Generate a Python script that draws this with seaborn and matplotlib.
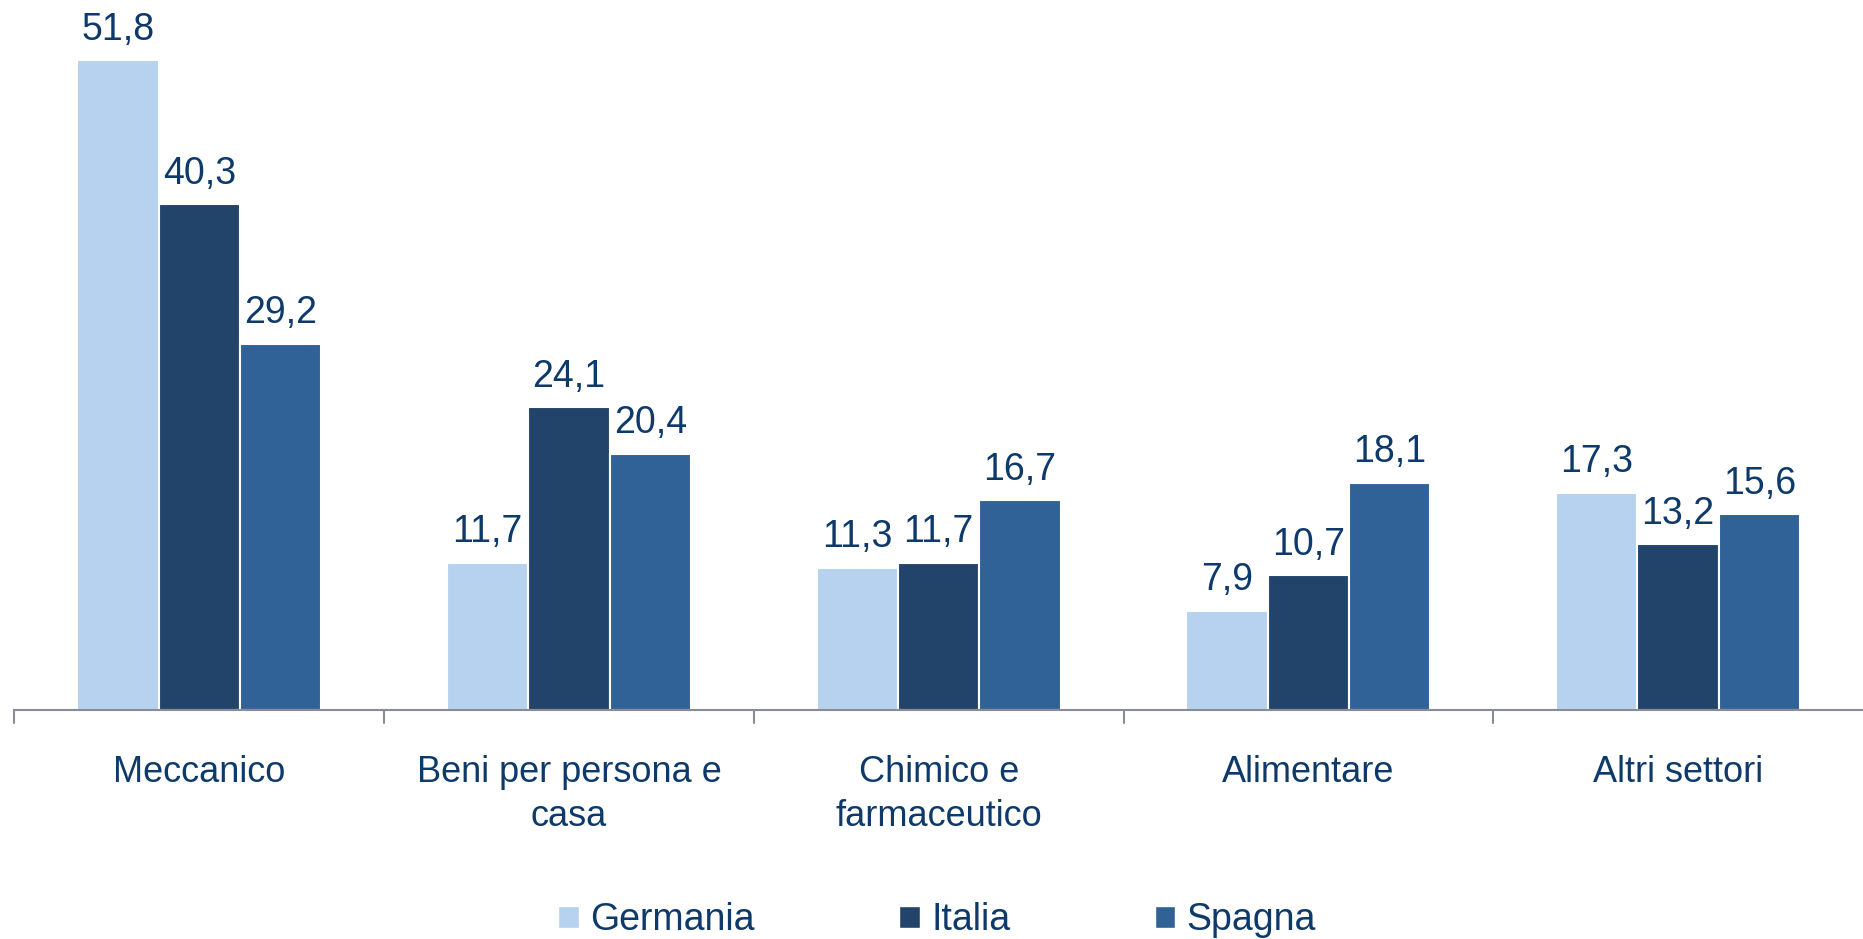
import pandas as pd
import matplotlib.pyplot as plt
import seaborn as sns
from matplotlib.patches import Patch

# data
settori = ["Meccanico", "Beni per persona e\ncasa", "Chimico e\nfarmaceutico", "Alimentare", "Altri settori"]
paesi = ["Germania", "Italia", "Spagna"]
germania = [51.8, 11.7, 11.3, 7.9, 17.3]
italia = [40.3, 24.1, 11.7, 10.7, 13.2]
spagna = [29.2, 20.4, 16.7, 18.1, 15.6]

colori = ["#B7D2EF", "#23446A", "#316297"]
testo = "#0E3A6B"

df = pd.DataFrame({
    "settore": settori * 3,
    "paese": [p for p in paesi for _ in settori],
    "valore": germania + italia + spagna,
})

sns.set_style("white")
plt.rcParams['font.family'] = ['Liberation Sans', 'DejaVu Sans']

fig = plt.figure(figsize=(18.63, 9.39), dpi=100)
ax = fig.add_axes([0.0077, 0.2443, 0.9923, 0.7557])

sns.barplot(data=df, x="settore", y="valore", hue="paese", palette=colori,
            saturation=1, width=0.66, edgecolor="white", linewidth=1.5,
            ax=ax, legend=False)

ax.set_ylim(0, 56.6)
ax.set_xlim(-0.5, 4.5)
ax.set_xlabel("")
ax.set_ylabel("")
ax.set_yticks([])
for s in ["top", "right", "left"]:
    ax.spines[s].set_visible(False)
ax.spines["bottom"].set_color("#888C99")
ax.spines["bottom"].set_linewidth(1.5)

# tick marks between categories
ax.set_xticks([0, 1, 2, 3, 4])
ax.set_xticklabels(settori, fontsize=26, color=testo, linespacing=1.3, va="top")
ax.tick_params(axis="x", length=0, pad=33)
for b in [-0.5, 0.5, 1.5, 2.5, 3.5]:
    ax.plot([b, b], [0, -1.1], color="#888C99", lw=1.5, clip_on=False)

# value labels
for c in ax.containers:
    labels = [f"{v:.1f}".replace(".", ",") for v in c.datavalues]
    ax.bar_label(c, labels=labels, padding=9, fontsize=27, color=testo)

handles = [Patch(facecolor=c, edgecolor="white") for c in colori]
fig.legend(handles, paesi, loc="center", bbox_to_anchor=(0.503, 0.02), ncol=3,
           frameon=False, fontsize=27, labelcolor=testo, handlelength=0.55,
           handleheight=0.55, handletextpad=0.3, columnspacing=3.85)

fig.savefig("out.png", dpi=100)
